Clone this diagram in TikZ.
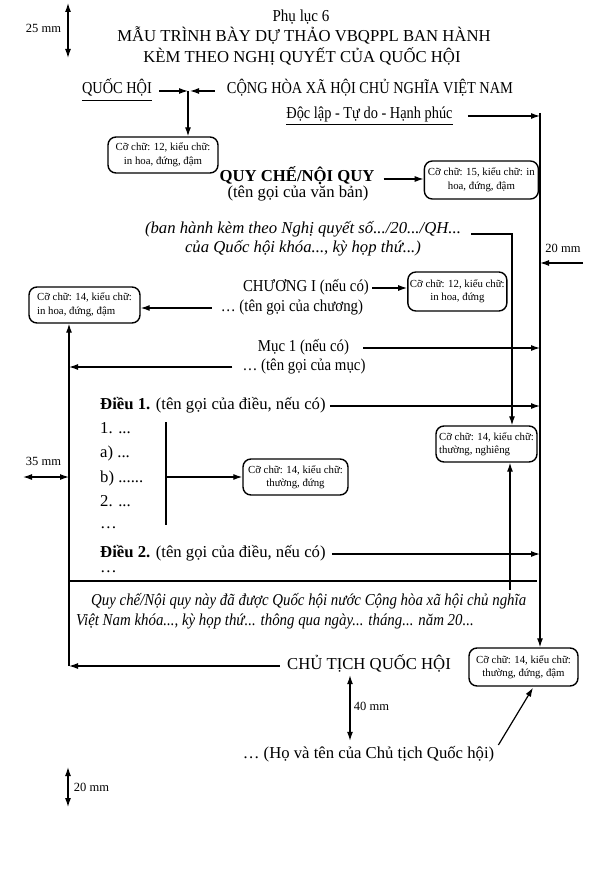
\documentclass[tikz,border=0pt]{standalone}
\usepackage{fontspec}
\setmainfont{Liberation Serif}
\newfontfamily\headfont[FakeStretch=0.86]{Liberation Serif}
\newfontfamily\partfont[FakeStretch=0.89]{Liberation Serif}
\newfontfamily\phufont[FakeStretch=0.9]{Liberation Serif}
\usetikzlibrary{arrows.meta, positioning}

\begin{document}
\begin{tikzpicture}[x=1pt, y=-1pt,
    txt/.style={inner sep=0pt, text height=6pt, text depth=0pt, font=\fontsize{16.7}{19}\selectfont},
    ital/.style={txt, font=\fontsize{16.7}{19}\selectfont\itshape},
    head/.style={txt, font=\headfont\fontsize{16.7}{19}\selectfont},
    part/.style={txt, font=\partfont\fontsize{16.7}{19}\selectfont},
    note/.style={draw, rounded corners=8pt, line width=1.4pt, inner sep=2pt, minimum height=36pt, align=center, font=\fontsize{10.8}{13.5}\selectfont},
    dimlabel/.style={inner sep=0pt, font=\fontsize{12.5}{14}\selectfont},
    arrow/.style={-{Latex[length=9pt, width=6pt]}, line width=1.2pt},
    dimarrow/.style={{Latex[length=9pt, width=6pt]}-{Latex[length=9pt, width=6pt]}, line width=1.2pt},
    uline/.style={line width=0.9pt}
  ]
  \fill[white] (0,0) rectangle (601,874);
  \useasboundingbox (0,0) rectangle (601,874);

  % header
  \node[txt, font=\phufont\fontsize{16.7}{19}\selectfont] (phuluc) at (301,19) {Phụ lục 6};
  \node[txt] (title1) at (304,39) {MẪU TRÌNH BÀY DỰ THẢO VBQPPL BAN HÀNH};
  \node[txt] (title2) at (302,60) {KÈM THEO NGHỊ QUYẾT CỦA QUỐC HỘI};
  \node[head] (quochoi) at (117,91) {QUỐC HỘI};
  \node[head] (conghoa) at (370,91) {CỘNG HÒA XÃ HỘI CHỦ NGHĨA VIỆT NAM};
  \node[head] (doclap) at (369.5,116) {Độc lập - Tự do - Hạnh phúc};
  \draw[uline] ([yshift=-6pt]quochoi.south west) -- ([yshift=-6pt]quochoi.south east);
  \draw[uline] ([yshift=-5.5pt]doclap.south west) -- ([yshift=-5.5pt]doclap.south east);

  % title of the document
  \node[note, minimum width=110pt] (box1) at (163,155) {Cỡ chữ: 12, kiểu chữ:\\in hoa, đứng, đậm};
  \node[txt, font=\fontsize{16.7}{19}\selectfont\bfseries] (quyche) at (297,179) {QUY CHẾ/NỘI QUY};
  \node[txt] (tengoi) at (298,195) {(tên gọi của văn bản)};
  \node[note, minimum width=114pt, minimum height=38pt, right=49pt of quyche, yshift=-1pt] (box2) {Cỡ chữ: 15, kiểu chữ: in\\hoa, đứng, đậm};
  \node[ital] (banhanh) at (303,231) {(ban hành kèm theo Nghị quyết số.../20.../QH...};
  \node[ital] (khoa) at (303,250) {của Quốc hội khóa..., kỳ họp thứ...)};

  % chapter, section
  \node[part] (chuong) at (306,288) {CHƯƠNG I (nếu có)};
  \node[part] (tenchuong) at (292,308) {… (tên gọi của chương)};
  \node[note, minimum width=99pt, minimum height=39pt, right=38pt of chuong, yshift=-3.5pt] (box3) {Cỡ chữ: 12, kiểu chữ:\\in hoa, đứng};
  \node[note, minimum width=111pt, align=left, left=80pt of tenchuong, yshift=3pt] (box4) {Cỡ chữ: 14, kiểu chữ:\\in hoa, đứng, đậm};
  \node[part] (muc) at (303.5,348) {Mục 1 (nếu có)};
  \node[part] (tenmuc) at (304,367) {… (tên gọi của mục)};

  % articles
  \node[txt, anchor=west] (dieu1) at (100,406) {\textbf{Điều 1.} (tên gọi của điều, nếu có)};
  \node[txt, anchor=west] (item1) at (100,430) {1. ...};
  \node[txt, below=24.5pt of item1.west, anchor=west] (itema) {a) ...};
  \node[txt, below=24.5pt of itema.west, anchor=west] (itemb) {b) ......};
  \node[txt, below=24.5pt of itemb.west, anchor=west] (item2) {2. ...};
  \node[txt, below=22pt of item2.west, anchor=west] (itemdots) {…};
  \node[note, minimum width=105pt] (boxc) at (295.5,477) {Cỡ chữ: 14, kiểu chữ:\\thường, đứng};
  \node[note, minimum width=101pt, align=left] (box5) at (486.5,444) {Cỡ chữ: 14, kiểu chữ:\\thường, nghiêng};
  \node[txt, anchor=west] (dieu2) at (100,554) {\textbf{Điều 2.} (tên gọi của điều, nếu có)};
  \node[txt, anchor=west] (dieudots) at (100,569) {…};

  % closing
  \node[part, font=\partfont\fontsize{16.7}{19}\selectfont\itshape, anchor=west] (passed1) at (91,602) {Quy chế/Nội quy này đã được Quốc hội nước Cộng hòa xã hội chủ nghĩa};
  \node[part, font=\partfont\fontsize{16.7}{19}\selectfont\itshape, anchor=west] (passed2) at (76,622) {Việt Nam khóa..., kỳ họp thứ... thông qua ngày... tháng... năm 20...};
  \node[txt] (chutich) at (369,666) {CHỦ TỊCH QUỐC HỘI};
  \node[note, minimum width=109pt, minimum height=38pt] (box6) at (523.5,667) {Cỡ chữ: 14, kiểu chữ:\\thường, đứng, đậm};
  \node[txt] (hoten) at (368.5,755) {… (Họ và tên của Chủ tịch Quốc hội)};

  % margins
  \node[dimlabel] (m25) at (43.5,28) {25 mm};
  \node[dimlabel] (m20r) at (563,248) {20 mm};
  \node[dimlabel] (m35) at (43.5,461) {35 mm};
  \node[dimlabel] (m40) at (371.5,706) {40 mm};
  \node[dimlabel] (m20b) at (91.5,787) {20 mm};

  \coordinate (jn) at (188,91);
  \coordinate (rtop) at (540,113);
  \coordinate (lfoot) at (69,666);
  \coordinate (b5foot) at (510,590);
  \coordinate (sep) at (537,581);
  \coordinate (brtop) at (166,422);
  \coordinate (brbot) at (166,525);
  \coordinate (d40) at (350,0);
  \coordinate (d25a) at (68,3);
  \coordinate (d25b) at (68,58);
  \coordinate (d20a) at (68,767);
  \coordinate (d20b) at (68,807);
  \coordinate (d35) at (23,477);
  \coordinate (d20r) at (583,263);

  \draw[arrow] ([xshift=7pt]quochoi.east) -- (jn);
  \draw[arrow] ([xshift=-12pt]conghoa.west) -- ([xshift=2pt]jn);
  \draw[arrow] (jn) -- (jn |- box1.north);
  \draw[arrow] ([xshift=15pt]doclap.east) -- (doclap.east -| rtop);
  \draw[arrow] (rtop) -- (rtop |- box6.north);
  \draw[arrow] ([xshift=9pt]quyche.east) -- (quyche.east -| box2.west);
  \draw[arrow] ([xshift=10pt]banhanh.base east) -| ([xshift=25.5pt]box5.north);
  \draw[arrow] (b5foot) -- (b5foot |- box5.south);
  \draw[arrow] ([xshift=3pt]chuong.east) -- (chuong.east -| box3.west);
  \draw[arrow] ([xshift=-9pt]tenchuong.west) -- (tenchuong.west -| box4.east);
  \draw[arrow] (lfoot) -- (lfoot |- box4.south);
  \draw[arrow] ([xshift=-7pt]chutich.west) -- (lfoot);
  \draw[arrow] ([xshift=-10pt]tenmuc.west) -- (tenmuc.west -| lfoot);
  \draw[arrow] ([xshift=14pt]muc.east) -- (muc.east -| rtop);
  \draw[arrow] ([xshift=4pt]dieu1.east) -- (dieu1.east -| rtop);
  \draw[arrow] ([xshift=6pt]dieu2.east) -- (dieu2.east -| rtop);
  \draw[line width=1.2pt] (brtop) -- (brbot);
  \draw[arrow] (brtop |- boxc.west) -- (boxc.west);
  \draw[line width=1.2pt] (lfoot |- sep) -- (sep);
  \draw[arrow] ([xshift=4pt, yshift=10pt]hoten.east) -- ([xshift=9.5pt, yshift=-1pt]box6.south);

  \draw[dimarrow] (d25a) -- (d25b);
  \draw[dimarrow] (d35) -- (d35 -| lfoot);
  \draw[dimarrow] ([yshift=-6pt]chutich.south -| d40) -- ([yshift=11pt]hoten.north -| d40);
  \draw[dimarrow] (d20a) -- (d20b);
  \draw[arrow] (d20r) -- (d20r -| rtop);
\end{tikzpicture}
\end{document}
